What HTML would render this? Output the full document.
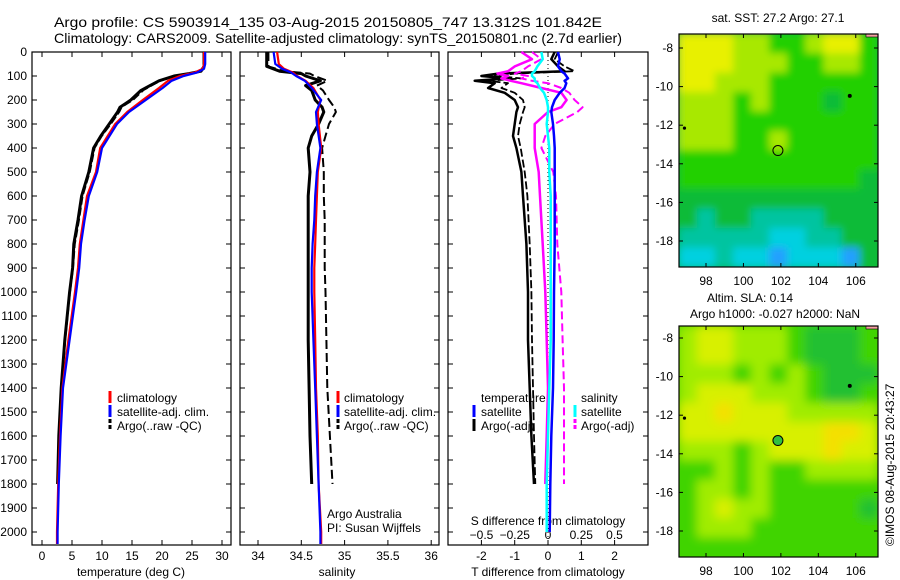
<!DOCTYPE html>
<html><head><meta charset="utf-8">
<style>
html,body{margin:0;padding:0;background:#fff;}
svg{display:block;font-family:"Liberation Sans",sans-serif;}
</style></head>
<body>
<svg id="fig" width="900" height="580" viewBox="0 0 900 580" xmlns="http://www.w3.org/2000/svg">
<rect width="900" height="580" fill="#fff"/>
<text x="54" y="27" font-size="14" textLength="548" lengthAdjust="spacingAndGlyphs">Argo profile: CS 5903914_135 03-Aug-2015 20150805_747 13.312S 101.842E</text>
<text x="54" y="43" font-size="14" textLength="568" lengthAdjust="spacingAndGlyphs">Climatology: CARS2009. Satellite-adjusted climatology: synTS_20150801.nc (2.7d earlier)</text>
<g id="plots"></g>
<text transform="translate(894,546) rotate(-90)" font-size="12">©IMOS 08-Aug-2015 20:43:27</text>
</svg>
<script>
// ---------- data ----------
const depthTicks=[0,100,200,300,400,500,600,700,800,900,1000,1100,1200,1300,1400,1500,1600,1700,1800,1900,2000];
const tempTicks=[0,5,10,15,20,25,30];
const salTicks=[34,34.5,35,35.5,36];
const tdiffTicks=[-2,-1,0,1,2];
const sdiffTicks=[-0.5,-0.25,0,0.25,0.5];

const climDepth=[0,50,70,85,100,120,150,200,250,300,400,500,600,700,800,900,1000,1200,1400,1600,1800,2000,2050];
const climTemp=[27,27,26.8,25.5,23,21,19.5,16.8,14.2,12.2,9.7,9.0,7.5,6.9,6.3,6.0,5.5,4.4,3.4,3.0,2.7,2.5,2.5];
const satTemp=[27.2,27.2,27,25.9,23.6,21.6,20.1,17.3,14.5,12.5,10.0,9.2,7.8,7.1,6.5,6.2,5.7,4.6,3.5,3.1,2.8,2.6,2.6];
const argoDepth=[0,60,80,90,100,120,140,160,200,230,250,300,350,400,500,600,700,800,900,1000,1200,1400,1600,1800];
const argoTemp=[27,27,26.5,24.5,22.0,19.5,18.0,16.5,14.8,13.0,12.6,11.2,9.8,8.6,7.8,6.6,6.0,5.3,5.1,4.6,3.8,3.2,2.8,2.6];
const argoTempRaw=[27.1,27.1,26.7,24.8,22.4,19.8,18.3,16.9,15.2,13.3,12.9,11.5,10.0,8.8,8.0,6.8,6.2,5.5,5.2,4.7,3.9,3.3,2.9,2.7];

const climSal=[34.22,34.24,34.3,34.4,34.45,34.55,34.64,34.72,34.69,34.7,34.73,34.69,34.68,34.67,34.66,34.65,34.65,34.66,34.67,34.69,34.7,34.73,34.73];
const satSal=[34.18,34.2,34.28,34.38,34.44,34.54,34.62,34.73,34.67,34.68,34.72,34.68,34.66,34.65,34.63,34.62,34.62,34.64,34.66,34.68,34.7,34.72,34.72];
const argoSal=[34.1,34.1,34.25,34.5,34.55,34.72,34.55,34.62,34.66,34.74,34.76,34.7,34.62,34.58,34.6,34.58,34.58,34.58,34.58,34.58,34.58,34.59,34.6,34.62];
const argoSalRaw=[34.12,34.12,34.3,34.6,34.65,34.8,34.68,34.75,34.82,34.88,34.9,34.82,34.78,34.74,34.76,34.76,34.77,34.77,34.77,34.78,34.79,34.8,34.83,34.86];

const diffDepth=[0,30,60,80,90,100,110,120,130,150,170,200,230,250,300,350,400,500,600,800,1000,1200,1400,1600,1800,2000];
const satTdiff=[0.3,0.35,0.3,0.4,0.5,0.55,0.6,0.5,0.55,0.5,0.35,0.2,0.12,0.1,0.15,0.18,0.2,0.2,0.2,0.2,0.18,0.17,0.15,0.1,0.07,0.05];
const argoTdiff=[0.2,0.1,0.3,0.5,-1.5,-2.0,-1.2,-2.2,-1.6,-1.8,-1.3,-1.0,-0.9,-0.95,-1.0,-1.05,-0.95,-0.8,-0.75,-0.65,-0.6,-0.6,-0.55,-0.5,-0.42,null];
const argoTdiffRaw=[0.3,0.2,0.5,0.8,-1.0,-1.6,-0.8,-1.8,-1.2,-1.4,-1.0,-0.75,-0.7,-0.75,-0.85,-0.9,-0.82,-0.7,-0.62,-0.55,-0.5,-0.48,-0.45,-0.42,-0.38,null];
const satSdiff=[-0.05,-0.04,-0.08,-0.1,-0.12,-0.12,-0.1,-0.1,-0.08,-0.06,-0.03,-0.01,0,0,-0.01,0,0.01,0.01,0.02,0.02,0.02,0.02,0.01,0.0,-0.01,-0.01];
const argoSdiff=[-0.2,-0.12,-0.25,-0.3,-0.38,-0.3,-0.35,-0.28,-0.2,-0.05,0.1,0.14,0.1,0.0,-0.1,-0.1,-0.1,-0.07,-0.06,-0.04,-0.02,-0.01,0.0,-0.01,-0.02,null];
const argoSdiffRaw=[-0.12,-0.05,-0.15,-0.2,-0.25,-0.15,-0.2,-0.12,0.0,0.1,0.16,0.2,0.26,0.22,0.05,-0.02,-0.05,0.04,0.06,0.07,0.1,0.11,0.12,0.12,0.12,null];

const lonTicks=[98,100,102,104,106];
const latTicks=[-8,-10,-12,-14,-16,-18];
const sstGrid=[
"00011221002","00011122112","00111222222","11121222322","11122222222","11122122222",
"22222222222","22222222223","33333333333","34334444333","44444554433","55455655563"];
const slaGrid=[
"21122234443","21122234443","22232323444","21112223443","11011122222","11111111001",
"22232111011","33232332222","32232333333","32122333334","32223333333","33333333333"];
const argoLon=101.842, argoLat=-13.312;
const titleSST="sat. SST: 27.2 Argo: 27.1";

// ---------- helpers ----------
const NS="http://www.w3.org/2000/svg";
const root=document.getElementById('plots');
function el(tag,attrs,parent){const e=document.createElementNS(NS,tag);for(const k in attrs)e.setAttribute(k,attrs[k]);(parent||root).appendChild(e);return e;}
const PT=52, PB=545;
const yD=d=>PT+d*0.24;

const panels={
 temp:{x0:32,x1:231,f:v=>42+v*6},
 sal:{x0:240,x1:439,f:v=>258+(v-34)*86.6},
 diff:{x0:448,x1:648,fT:v=>548+v*33.3,fS:v=>548+v*133}
};

function frame(p,name){
  const g=el('g',{});
  
  
  el('rect',{x:p.x0,y:PT,width:p.x1-p.x0,height:PB-PT,fill:'none',stroke:'#000','stroke-width':1.2},g);
  depthTicks.forEach(d=>{const y=yD(d);
    el('line',{x1:p.x0,x2:p.x0+5,y1:y,y2:y,stroke:'#000'},g);
    el('line',{x1:p.x1-5,x2:p.x1,y1:y,y2:y,stroke:'#000'},g);});
  return g;
}
function xticks(g,ticks,f,labelY,fmt){
  ticks.forEach(v=>{const x=f(v);
    el('line',{x1:x,x2:x,y1:PT,y2:PT+5,stroke:'#000'},g);
    el('line',{x1:x,x2:x,y1:PB-5,y2:PB,stroke:'#000'},g);
    if(labelY){const t=el('text',{x:x,y:labelY,'font-size':12,'text-anchor':'middle'},g);t.textContent=fmt?fmt(v):String(v);
      
      }
  });
}
function line(g,depths,vals,f,color,w,dash,name){
  let pts=[];depths.forEach((d,i)=>{if(vals[i]!==null&&vals[i]!==undefined)pts.push(f(vals[i]).toFixed(1)+','+yD(d).toFixed(1));});
  const pl=el('polyline',{points:pts.join(' '),fill:'none',stroke:color,'stroke-width':w,'stroke-linejoin':'round'},g);
  if(dash)pl.setAttribute('stroke-dasharray',dash);
  
  
}
function txt(g,x,y,s,name,size,anchor){const t=el('text',{x:x,y:y,'font-size':size||12,'text-anchor':anchor||'start'},g);t.textContent=s;
  
  
  return t;}
function legMark(g,x,y,color,dash){el('line',{x1:x,x2:x,y1:y-11,y2:y+1,stroke:color,'stroke-width':3,'stroke-dasharray':dash||''},g);}

// ---------- temperature panel ----------
{
 const p=panels.temp,g=frame(p,'temperature-panel');
 depthTicks.forEach(d=>{const t=txt(g,27,yD(d)+4,String(d),'depth-tick-label',12,'end');});
 xticks(g,tempTicks,p.f,560);
 txt(g,131,576,'temperature (deg C)','x-axis-title-temperature',12,'middle');
 line(g,argoDepth,argoTemp,p.f,'#000',3,null,'argo-temperature');
 line(g,argoDepth,argoTempRaw,p.f,'#000',1.5,'8,3','argo-temperature-raw');
 line(g,climDepth,climTemp,p.f,'#f00',2.2,null,'climatology-temperature');
 line(g,climDepth,satTemp,p.f,'#00f',2.2,null,'satellite-temperature');
 const lg=el('g',{},g);
 
 
 legMark(lg,110,402,'#f00');txt(lg,117,402,'climatology','legend-climatology');
 legMark(lg,110,416,'#00f');txt(lg,117,416,'satellite-adj. clim.','legend-satellite');
 legMark(lg,110,430,'#000','4,2');txt(lg,117,430,'Argo(..raw -QC)','legend-argo');
}
// ---------- salinity panel ----------
{
 const p=panels.sal,g=frame(p,'salinity-panel');
 xticks(g,salTicks,p.f,560);
 txt(g,337,576,'salinity','x-axis-title-salinity',12,'middle');
 line(g,argoDepth,argoSal,p.f,'#000',3,null,'argo-salinity');
 line(g,argoDepth,argoSalRaw,p.f,'#000',2,'9,4','argo-salinity-raw');
 line(g,climDepth,climSal,p.f,'#f00',2.2,null,'climatology-salinity');
 line(g,climDepth,satSal,p.f,'#00f',2.2,null,'satellite-salinity');
 const lg=el('g',{},g);
 
 
 legMark(lg,338,402,'#f00');txt(lg,344,402,'climatology','legend-climatology');
 legMark(lg,338,416,'#00f');txt(lg,344,416,'satellite-adj. clim.','legend-satellite');
 legMark(lg,338,430,'#000','4,2');txt(lg,344,430,'Argo(..raw -QC)','legend-argo');
 txt(g,327,518,'Argo Australia','credit-argo-australia');
 txt(g,327,532,'PI: Susan Wijffels','credit-pi');
}
// ---------- difference panel ----------
{
 const p=panels.diff,g=frame(p,'difference-panel');
 xticks(g,tdiffTicks,p.fT,560);
 sdiffTicks.forEach(v=>{const t=txt(g,p.fS(v),539,String(v).replace('-','−'),'s-diff-tick-label',12,'middle');});
 txt(g,548,525,'S difference from climatology','s-diff-axis-title',12,'middle');
 txt(g,548,576,'T difference from climatology','t-diff-axis-title',12,'middle');
 el('line',{x1:548,x2:548,y1:PT,y2:PB,stroke:'#000','stroke-dasharray':'1,3'},g);
 line(g,diffDepth,argoTdiff,p.fT,'#000',2.5,null,'argo-t-diff');
 line(g,diffDepth,argoTdiffRaw,p.fT,'#000',1.8,'8,3','argo-t-diff-raw');
 line(g,diffDepth,argoSdiff,p.fS,'#f0f',2.5,null,'argo-s-diff');
 line(g,diffDepth,argoSdiffRaw,p.fS,'#f0f',2,'8,4','argo-s-diff-raw');
 line(g,diffDepth,satTdiff,p.fT,'#00f',2.5,null,'satellite-t-diff');
 line(g,diffDepth,satSdiff,p.fS,'#0ff',2.5,null,'satellite-s-diff');
 const lg=el('g',{},g);
 
 
 txt(lg,481,402,'temperature','legend-temperature-header');
 legMark(lg,474,416,'#00f');txt(lg,481,416,'satellite','legend-t-satellite');
 legMark(lg,474,430,'#000');txt(lg,481,430,'Argo(-adj)','legend-t-argo');
 txt(lg,581,402,'salinity','legend-salinity-header');
 legMark(lg,575,416,'#0ff');txt(lg,581,416,'satellite','legend-s-satellite');
 legMark(lg,575,430,'#f0f','4,2');txt(lg,581,430,'Argo(-adj)','legend-s-argo');
}
// ---------- maps ----------
function map(top,bottom,grid,colors,name,blur,latAt8){
 const x0=679,x1=878;
 const g=el('g',{});
 
 
 const rows=grid.length,cols=grid[0].length,cw=(x1-x0)/cols,ch=(bottom-top)/rows;
 const cid='clip'+name;
 const cp=el('clipPath',{id:cid},g);el('rect',{x:x0,y:top,width:x1-x0,height:bottom-top},cp);
 const cg=el('g',{'clip-path':'url(#'+cid+')'},g);
 const fid='blur'+name;
 const f=el('filter',{id:fid,x:'-10%',y:'-10%',width:'120%',height:'120%'},g);el('feGaussianBlur',{stdDeviation:blur},f);
 const ig=el('g',{filter:'url(#'+fid+')'},cg);
 el('rect',{x:x0-10,y:top-10,width:x1-x0+20,height:bottom-top+20,fill:colors[3]},ig);
 grid.forEach((row,r)=>{for(let c=0;c<cols;c++){
   const cell=el('rect',{x:x0+c*cw-0.3,y:top+r*ch-0.3,width:cw+0.6,height:ch+0.6,fill:colors[+row[c]]},ig);
   
   }});
 const lonX=l=>706+(l-98)*18.72, latY=la=>latAt8+(-8-la)*19.3;
 el('circle',{cx:lonX(105.68),cy:latY(-10.48),r:2,fill:'#000'},cg);
 el('circle',{cx:lonX(96.85),cy:latY(-12.15),r:1.6,fill:'#000'},cg);
 el('rect',{x:x1-12,y:top,width:12,height:3,fill:'#f4a0a0',stroke:'#000','stroke-width':0.6},cg);
 el('rect',{x:x0,y:top,width:x1-x0,height:bottom-top,fill:'none',stroke:'#000','stroke-width':1.2},g);
 lonTicks.forEach(l=>{const x=lonX(l);
   el('line',{x1:x,x2:x,y1:top,y2:top+4,stroke:'#000'},g);el('line',{x1:x,x2:x,y1:bottom-4,y2:bottom,stroke:'#000'},g);
   txt(g,x,bottom+18,String(l),'lon-tick-label',12,'middle');});
 latTicks.forEach(la=>{const y=latY(la);
   el('line',{x1:x0,x2:x0+4,y1:y,y2:y,stroke:'#000'},g);el('line',{x1:x1-4,x2:x1,y1:y,y2:y,stroke:'#000'},g);
   txt(g,673,y+4,String(la),'lat-tick-label',12,'end');});
 return {g,lonX,latY};
}
{
 const m=map(34,267,sstGrid,['#e8f000','#a8e800','#22d000','#10bb38','#00c4a0','#00d0e0','#20a0ff'],'sst-map',4,48);
 txt(m.g,778,22,titleSST,'sst-map-title',12,'middle');
 const c=el('circle',{cx:m.lonX(argoLon),cy:m.latY(argoLat),r:5,fill:'none',stroke:'#000'},m.g);
 
 
}
{
 const m=map(326,557,slaGrid,['#f4e000','#d8f000','#a0ec00','#40d400','#22c030'],'sla-map',5,338);
 txt(m.g,750,302,'Altim. SLA: 0.14','sla-map-title',12,'middle');
 txt(m.g,775,318,'Argo h1000: -0.027 h2000: NaN','sla-map-subtitle',12,'middle');
 const c=el('circle',{cx:m.lonX(argoLon),cy:m.latY(argoLat),r:5,fill:'#30c040',stroke:'#000'},m.g);
 
 
}
</script>
</body></html>
